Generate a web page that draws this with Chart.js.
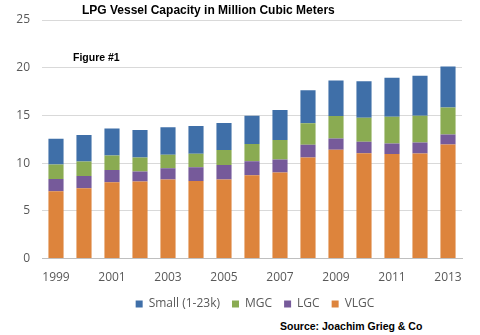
<!DOCTYPE html>
<html lang="en">
  <head>
    <meta charset="UTF-8" />
    <title>LPG Vessel Capacity</title>
    <script src="https://cdn.jsdelivr.net/npm/chart.js@4.4.0/dist/chart.umd.min.js"></script>
    <style>
      body {
        margin: 0;
        background-color: #ffffff;
        font-family: "Liberation Sans", Arial, sans-serif;
      }
      .wrap {
        position: relative;
        width: 480px;
        height: 335px;
      }
      .chart-box {
        position: absolute;
        left: 0;
        top: 0;
        width: 480px;
        height: 320px;
      }
      .title {
        position: absolute;
        left: 82px;
        top: 3px;
        font-size: 12px;
        font-weight: bold;
        color: #000;
      }
      .figure {
        position: absolute;
        left: 73px;
        top: 51px;
        font-size: 10.5px;
        font-weight: bold;
        color: #000;
      }
      .source {
        position: absolute;
        left: 280px;
        top: 320px;
        font-size: 10.5px;
        font-weight: bold;
        color: #000;
      }
    </style>
  </head>
  <body>
    <div class="wrap">
      <div class="chart-box">
        <canvas id="lpgChart"></canvas>
      </div>
      <div class="title">LPG Vessel Capacity in Million Cubic Meters</div>
      <div class="figure">Figure #1</div>
      <div class="source">Source: Joachim Grieg &amp; Co</div>
    </div>

    <script>
      // data (million m3)
      const years = ["1999", "2000", "2001", "2002", "2003", "2004", "2005", "2006", "2007", "2008", "2009", "2010", "2011", "2012", "2013"];
      const vlgc = [7.05, 7.37, 8.0, 8.07, 8.28, 8.14, 8.28, 8.73, 9.01, 10.59, 11.4, 11.05, 10.95, 11.01, 11.96];
      const lgc = [1.3, 1.29, 1.29, 1.05, 1.19, 1.44, 1.54, 1.47, 1.37, 1.34, 1.19, 1.19, 1.11, 1.16, 1.05];
      const mgc = [1.5, 1.51, 1.51, 1.47, 1.4, 1.4, 1.55, 1.8, 2.04, 2.24, 2.36, 2.53, 2.81, 2.81, 2.81];
      const small = [2.71, 2.78, 2.84, 2.88, 2.88, 2.91, 2.83, 2.98, 3.16, 3.47, 3.71, 3.82, 4.08, 4.18, 4.32];
      const yTicks = [0, 5, 10, 15, 20, 25];

      const tickFont = { family: "'Open Sans', 'Liberation Sans', sans-serif", size: 12 };

      // legend in the original sits a bit right of centre
      const shiftLegend = {
        id: "shiftLegend",
        afterLayout(chart) {
          chart.legend.left += 24;
          chart.legend.right += 24;
        },
      };

      const ctx = document.getElementById("lpgChart").getContext("2d");
      const chart = new Chart(ctx, {
        type: "bar",
        data: {
          labels: years,
          datasets: [
            { label: "VLGC", data: vlgc, backgroundColor: "#dd843c" },
            { label: "LGC", data: lgc, backgroundColor: "#765a9a" },
            { label: "MGC", data: mgc, backgroundColor: "#8aab52" },
            { label: "Small (1-23k)", data: small, backgroundColor: "#3f6fa8" },
          ],
        },
        plugins: [shiftLegend],
        options: {
          responsive: true,
          maintainAspectRatio: false,
          animation: false,
          layout: {
            padding: { left: 0, right: 18, top: 20, bottom: 0 },
          },
          datasets: {
            bar: {
              categoryPercentage: 1.0,
              barPercentage: 0.54,
            },
          },
          plugins: {
            legend: {
              position: "bottom",
              reverse: true,
              labels: {
                boxWidth: 7,
                boxHeight: 7,
                padding: 12,
                color: "#595959",
                font: tickFont,
              },
            },
            tooltip: { enabled: false },
          },
          scales: {
            x: {
              stacked: true,
              grid: { display: false, drawTicks: false },
              border: { display: true, color: "#bfbfbf" },
              ticks: {
                color: "#595959",
                font: tickFont,
                padding: 12,
                autoSkip: false,
                maxRotation: 0,
                callback: function (value, index) {
                  return index % 2 === 0 ? years[index] : "";
                },
              },
              afterFit: function (scale) {
                scale.height -= 11;
              },
            },
            y: {
              stacked: true,
              min: 0,
              max: 25,
              afterBuildTicks: function (axis) {
                axis.ticks = yTicks.map((v) => ({ value: v }));
              },
              afterFit: function (scale) {
                scale.width = 42;
              },
              grid: { color: "#d9d9d9", drawTicks: false },
              border: { display: false },
              ticks: {
                color: "#595959",
                font: tickFont,
                padding: 12,
              },
            },
          },
        },
      });
    </script>
  </body>
</html>
